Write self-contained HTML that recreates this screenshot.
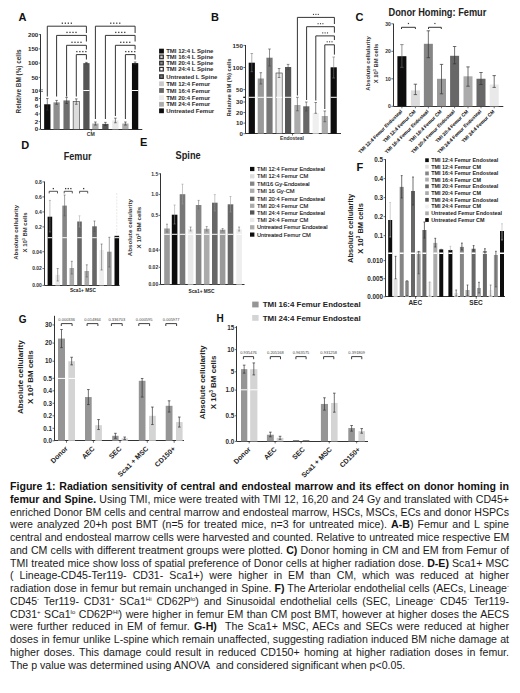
<!DOCTYPE html>
<html><head><meta charset="utf-8">
<style>
html,body{margin:0;padding:0;background:#fff;}
body{width:520px;height:693px;overflow:hidden;position:relative;font-family:"Liberation Sans", sans-serif;}
svg{position:absolute;left:0;top:0;}
svg text{font-family:"Liberation Sans", sans-serif;}
#cap{position:absolute;left:10px;top:480.2px;width:499px;font-size:10.6px;line-height:12.76px;color:#1a1a1a;}
.cl{white-space:nowrap;text-align:justify;text-align-last:justify;height:12.76px;}
.cl.last{text-align-last:left;}
.cl b{font-weight:bold;color:#111;}
.cl sup{font-size:6px;vertical-align:0;position:relative;top:-4px;line-height:0;}
</style></head><body>
<svg width="520" height="693" viewBox="0 0 520 693">
<text x="22.4" y="20.8" font-size="11" text-anchor="middle" font-weight="bold" fill="#111">A</text>
<line x1="40.5" y1="34.2" x2="40.5" y2="129.3" stroke="#333" stroke-width="1.0"/>
<line x1="40.8" y1="129.5" x2="142.3" y2="129.5" stroke="#333" stroke-width="1.0"/>
<line x1="91.3" y1="129.3" x2="91.3" y2="131.5" stroke="#333" stroke-width="0.7"/>
<line x1="39" y1="89.8" x2="43" y2="89.8" stroke="#333" stroke-width="0.6"/>
<line x1="39" y1="91.5" x2="43" y2="91.5" stroke="#333" stroke-width="0.6"/>
<line x1="38.8" y1="34.6" x2="40.8" y2="34.6" stroke="#333" stroke-width="0.7"/>
<text x="38.3" y="36.7" font-size="6.2" text-anchor="end" font-weight="bold" fill="#2a2a2a">200</text>
<line x1="38.8" y1="48.87" x2="40.8" y2="48.87" stroke="#333" stroke-width="0.7"/>
<text x="38.3" y="50.97" font-size="6.2" text-anchor="end" font-weight="bold" fill="#2a2a2a">150</text>
<line x1="38.8" y1="63.13" x2="40.8" y2="63.13" stroke="#333" stroke-width="0.7"/>
<text x="38.3" y="65.23" font-size="6.2" text-anchor="end" font-weight="bold" fill="#2a2a2a">100</text>
<line x1="38.8" y1="77.4" x2="40.8" y2="77.4" stroke="#333" stroke-width="0.7"/>
<text x="38.3" y="79.5" font-size="6.2" text-anchor="end" font-weight="bold" fill="#2a2a2a">50</text>
<line x1="38.8" y1="90.8" x2="40.8" y2="90.8" stroke="#333" stroke-width="0.7"/>
<text x="38.3" y="92.9" font-size="6.2" text-anchor="end" font-weight="bold" fill="#2a2a2a">10</text>
<line x1="38.8" y1="98.5" x2="40.8" y2="98.5" stroke="#333" stroke-width="0.7"/>
<text x="38.3" y="100.6" font-size="6.2" text-anchor="end" font-weight="bold" fill="#2a2a2a">8</text>
<line x1="38.8" y1="106.2" x2="40.8" y2="106.2" stroke="#333" stroke-width="0.7"/>
<text x="38.3" y="108.3" font-size="6.2" text-anchor="end" font-weight="bold" fill="#2a2a2a">6</text>
<line x1="38.8" y1="113.9" x2="40.8" y2="113.9" stroke="#333" stroke-width="0.7"/>
<text x="38.3" y="116" font-size="6.2" text-anchor="end" font-weight="bold" fill="#2a2a2a">4</text>
<line x1="38.8" y1="121.6" x2="40.8" y2="121.6" stroke="#333" stroke-width="0.7"/>
<text x="38.3" y="123.7" font-size="6.2" text-anchor="end" font-weight="bold" fill="#2a2a2a">2</text>
<line x1="38.8" y1="129.3" x2="40.8" y2="129.3" stroke="#333" stroke-width="0.7"/>
<text x="38.3" y="131.4" font-size="6.2" text-anchor="end" font-weight="bold" fill="#2a2a2a">0</text>
<text x="21.2" y="81.5" font-size="6.4" text-anchor="middle" font-weight="bold" fill="#333" transform="rotate(-90 21.2 81.5)">Relative BM (%) cells</text>
<rect x="44.15" y="104.28" width="6.3" height="25.03" fill="#0d0d0d"/>
<line x1="47.3" y1="98.5" x2="47.3" y2="110.05" stroke="#333" stroke-width="0.6"/>
<line x1="46" y1="98.5" x2="48.6" y2="98.5" stroke="#333" stroke-width="0.6"/>
<line x1="46" y1="110.05" x2="48.6" y2="110.05" stroke="#333" stroke-width="0.6"/>
<rect x="53.45" y="102.35" width="6.3" height="26.95" fill="#8e8e8e"/>
<line x1="56.6" y1="100.43" x2="56.6" y2="104.28" stroke="#333" stroke-width="0.6"/>
<line x1="55.3" y1="100.43" x2="57.9" y2="100.43" stroke="#333" stroke-width="0.6"/>
<line x1="55.3" y1="104.28" x2="57.9" y2="104.28" stroke="#333" stroke-width="0.6"/>
<rect x="63.45" y="100.43" width="6.3" height="28.88" fill="#6e6e6e"/>
<line x1="66.6" y1="97.35" x2="66.6" y2="103.51" stroke="#333" stroke-width="0.6"/>
<line x1="65.3" y1="97.35" x2="67.9" y2="97.35" stroke="#333" stroke-width="0.6"/>
<line x1="65.3" y1="103.51" x2="67.9" y2="103.51" stroke="#333" stroke-width="0.6"/>
<rect x="73.15" y="101.58" width="6.3" height="27.72" fill="#dcdcdc" stroke="#333" stroke-width="0.6"/>
<line x1="76.3" y1="98.89" x2="76.3" y2="104.28" stroke="#333" stroke-width="0.6"/>
<line x1="75" y1="98.89" x2="77.6" y2="98.89" stroke="#333" stroke-width="0.6"/>
<line x1="75" y1="104.28" x2="77.6" y2="104.28" stroke="#333" stroke-width="0.6"/>
<rect x="83.25" y="63.13" width="6.3" height="66.17" fill="#555"/>
<line x1="86.4" y1="62.42" x2="86.4" y2="63.84" stroke="#333" stroke-width="0.6"/>
<line x1="85.1" y1="62.42" x2="87.7" y2="62.42" stroke="#333" stroke-width="0.6"/>
<line x1="85.1" y1="63.84" x2="87.7" y2="63.84" stroke="#333" stroke-width="0.6"/>
<rect x="83.25" y="90" width="6.3" height="1" fill="#fff"/>
<rect x="92.25" y="123.53" width="6.3" height="5.78" fill="#ababab"/>
<line x1="95.4" y1="121.99" x2="95.4" y2="125.07" stroke="#333" stroke-width="0.6"/>
<line x1="94.1" y1="121.99" x2="96.7" y2="121.99" stroke="#333" stroke-width="0.6"/>
<line x1="94.1" y1="125.07" x2="96.7" y2="125.07" stroke="#333" stroke-width="0.6"/>
<rect x="102.25" y="123.91" width="6.3" height="5.39" fill="#555"/>
<line x1="105.4" y1="122.37" x2="105.4" y2="125.45" stroke="#333" stroke-width="0.6"/>
<line x1="104.1" y1="122.37" x2="106.7" y2="122.37" stroke="#333" stroke-width="0.6"/>
<line x1="104.1" y1="125.45" x2="106.7" y2="125.45" stroke="#333" stroke-width="0.6"/>
<rect x="112.25" y="120.45" width="6.3" height="8.86" fill="#e9e9e9"/>
<line x1="115.4" y1="118.14" x2="115.4" y2="122.76" stroke="#333" stroke-width="0.6"/>
<line x1="114.1" y1="118.14" x2="116.7" y2="118.14" stroke="#333" stroke-width="0.6"/>
<line x1="114.1" y1="122.76" x2="116.7" y2="122.76" stroke="#333" stroke-width="0.6"/>
<rect x="122.25" y="123.53" width="6.3" height="5.78" fill="#ababab"/>
<line x1="125.4" y1="121.99" x2="125.4" y2="125.07" stroke="#333" stroke-width="0.6"/>
<line x1="124.1" y1="121.99" x2="126.7" y2="121.99" stroke="#333" stroke-width="0.6"/>
<line x1="124.1" y1="125.07" x2="126.7" y2="125.07" stroke="#333" stroke-width="0.6"/>
<rect x="131.95" y="63.13" width="6.3" height="66.17" fill="#0d0d0d"/>
<line x1="135.1" y1="61.99" x2="135.1" y2="64.27" stroke="#333" stroke-width="0.6"/>
<line x1="133.8" y1="61.99" x2="136.4" y2="61.99" stroke="#333" stroke-width="0.6"/>
<line x1="133.8" y1="64.27" x2="136.4" y2="64.27" stroke="#333" stroke-width="0.6"/>
<rect x="131.95" y="90" width="6.3" height="1" fill="#fff"/>
<polyline points="47.3,96.5 47.3,26.2 86.4,26.2 86.4,33" fill="none" stroke="#2a2a2a" stroke-width="0.95"/>
<rect x="61.7" y="22.55" width="1.3" height="1.3" fill="#3a3a3a"/>
<rect x="64.7" y="22.55" width="1.3" height="1.3" fill="#3a3a3a"/>
<rect x="67.7" y="22.55" width="1.3" height="1.3" fill="#3a3a3a"/>
<rect x="70.7" y="22.55" width="1.3" height="1.3" fill="#3a3a3a"/>
<polyline points="56.6,96.5 56.6,35.4 86.4,35.4 86.4,41.5" fill="none" stroke="#2a2a2a" stroke-width="0.95"/>
<rect x="66.35" y="31.75" width="1.3" height="1.3" fill="#3a3a3a"/>
<rect x="69.35" y="31.75" width="1.3" height="1.3" fill="#3a3a3a"/>
<rect x="72.35" y="31.75" width="1.3" height="1.3" fill="#3a3a3a"/>
<rect x="75.35" y="31.75" width="1.3" height="1.3" fill="#3a3a3a"/>
<polyline points="66.6,96.5 66.6,45.3 86.4,45.3 86.4,49.5" fill="none" stroke="#2a2a2a" stroke-width="0.95"/>
<rect x="71.35" y="41.65" width="1.3" height="1.3" fill="#3a3a3a"/>
<rect x="74.35" y="41.65" width="1.3" height="1.3" fill="#3a3a3a"/>
<rect x="77.35" y="41.65" width="1.3" height="1.3" fill="#3a3a3a"/>
<rect x="80.35" y="41.65" width="1.3" height="1.3" fill="#3a3a3a"/>
<polyline points="76.3,96.5 76.3,54.6 86.4,54.6 86.4,59.5" fill="none" stroke="#2a2a2a" stroke-width="0.95"/>
<rect x="76.2" y="50.95" width="1.3" height="1.3" fill="#3a3a3a"/>
<rect x="79.2" y="50.95" width="1.3" height="1.3" fill="#3a3a3a"/>
<rect x="82.2" y="50.95" width="1.3" height="1.3" fill="#3a3a3a"/>
<rect x="85.2" y="50.95" width="1.3" height="1.3" fill="#3a3a3a"/>
<polyline points="95.4,119 95.4,26.2 135.1,26.2 135.1,33" fill="none" stroke="#2a2a2a" stroke-width="0.95"/>
<rect x="110.1" y="22.55" width="1.3" height="1.3" fill="#3a3a3a"/>
<rect x="113.1" y="22.55" width="1.3" height="1.3" fill="#3a3a3a"/>
<rect x="116.1" y="22.55" width="1.3" height="1.3" fill="#3a3a3a"/>
<rect x="119.1" y="22.55" width="1.3" height="1.3" fill="#3a3a3a"/>
<polyline points="105.4,119 105.4,35.4 135.1,35.4 135.1,41.5" fill="none" stroke="#2a2a2a" stroke-width="0.95"/>
<rect x="115.1" y="31.75" width="1.3" height="1.3" fill="#3a3a3a"/>
<rect x="118.1" y="31.75" width="1.3" height="1.3" fill="#3a3a3a"/>
<rect x="121.1" y="31.75" width="1.3" height="1.3" fill="#3a3a3a"/>
<rect x="124.1" y="31.75" width="1.3" height="1.3" fill="#3a3a3a"/>
<polyline points="115.4,116 115.4,45.3 135.1,45.3 135.1,49.5" fill="none" stroke="#2a2a2a" stroke-width="0.95"/>
<rect x="120.1" y="41.65" width="1.3" height="1.3" fill="#3a3a3a"/>
<rect x="123.1" y="41.65" width="1.3" height="1.3" fill="#3a3a3a"/>
<rect x="126.1" y="41.65" width="1.3" height="1.3" fill="#3a3a3a"/>
<rect x="129.1" y="41.65" width="1.3" height="1.3" fill="#3a3a3a"/>
<polyline points="125.4,119 125.4,54.6 135.1,54.6 135.1,59.5" fill="none" stroke="#2a2a2a" stroke-width="0.95"/>
<rect x="125.1" y="50.95" width="1.3" height="1.3" fill="#3a3a3a"/>
<rect x="128.1" y="50.95" width="1.3" height="1.3" fill="#3a3a3a"/>
<rect x="131.1" y="50.95" width="1.3" height="1.3" fill="#3a3a3a"/>
<rect x="134.1" y="50.95" width="1.3" height="1.3" fill="#3a3a3a"/>
<text x="90.8" y="136.2" font-size="5.2" text-anchor="middle" font-weight="bold" fill="#333">CM</text>
<rect x="159.1" y="48.7" width="4.8" height="4.8" fill="#0d0d0d"/>
<text x="166.2" y="53.2" font-size="6.0" text-anchor="start" font-weight="bold" fill="#2a2a2a">TMI 12:4 L Spine</text>
<rect x="159.1" y="54.5" width="4.8" height="4.8" fill="#2a2a2a"/>
<rect x="160.3" y="55.7" width="2.4" height="2.4" fill="#c4c4c4"/>
<text x="166.2" y="59" font-size="6.0" text-anchor="start" font-weight="bold" fill="#2a2a2a">TMI 16:4 L Spine</text>
<rect x="159.1" y="60.7" width="4.8" height="4.8" fill="#2a2a2a"/>
<rect x="160.3" y="61.9" width="2.4" height="2.4" fill="#8a8a8a"/>
<text x="166.2" y="65.2" font-size="6.0" text-anchor="start" font-weight="bold" fill="#2a2a2a">TMI 20:4 L Spine</text>
<rect x="159.1" y="66.8" width="4.8" height="4.8" fill="#2a2a2a"/>
<rect x="160.3" y="68" width="2.4" height="2.4" fill="#fff"/>
<text x="166.2" y="71.3" font-size="6.0" text-anchor="start" font-weight="bold" fill="#2a2a2a">TMI 24:4 L Spine</text>
<rect x="159.1" y="74.2" width="4.8" height="4.8" fill="#2a2a2a"/>
<rect x="160.3" y="75.4" width="2.4" height="2.4" fill="#7a7a7a"/>
<text x="166.2" y="78.7" font-size="6.0" text-anchor="start" font-weight="bold" fill="#2a2a2a">Untreated L Spine</text>
<rect x="159.1" y="81.4" width="4.8" height="4.8" fill="#c9c9c9"/>
<text x="166.2" y="85.9" font-size="6.0" text-anchor="start" font-weight="bold" fill="#2a2a2a">TMI 12:4 Femur</text>
<rect x="159.1" y="88.1" width="4.8" height="4.8" fill="#676767"/>
<text x="166.2" y="92.6" font-size="6.0" text-anchor="start" font-weight="bold" fill="#2a2a2a">TMI 16:4 Femur</text>
<rect x="159.1" y="95.3" width="4.8" height="4.8" fill="#e9e9e9"/>
<text x="166.2" y="99.8" font-size="6.0" text-anchor="start" font-weight="bold" fill="#2a2a2a">TMI 20:4 Femur</text>
<rect x="159.1" y="101.9" width="4.8" height="4.8" fill="#ababab"/>
<text x="166.2" y="106.4" font-size="6.0" text-anchor="start" font-weight="bold" fill="#2a2a2a">TMI 24:4 Femur</text>
<rect x="159.1" y="108.4" width="4.8" height="4.8" fill="#0d0d0d"/>
<text x="166.2" y="112.9" font-size="6.0" text-anchor="start" font-weight="bold" fill="#2a2a2a">Untreated Femur</text>
<text x="214.9" y="20.8" font-size="11" text-anchor="middle" font-weight="bold" fill="#111">B</text>
<line x1="245.5" y1="45" x2="245.5" y2="133.7" stroke="#333" stroke-width="1.0"/>
<line x1="245.4" y1="133.5" x2="341" y2="133.5" stroke="#333" stroke-width="1.0"/>
<line x1="292.5" y1="133.7" x2="292.5" y2="135.5" stroke="#333" stroke-width="0.7"/>
<line x1="243.4" y1="45.4" x2="245.4" y2="45.4" stroke="#333" stroke-width="0.7"/>
<text x="242.9" y="47.5" font-size="6.2" text-anchor="end" font-weight="bold" fill="#2a2a2a">150</text>
<line x1="243.4" y1="67.5" x2="245.4" y2="67.5" stroke="#333" stroke-width="0.7"/>
<text x="242.9" y="69.6" font-size="6.2" text-anchor="end" font-weight="bold" fill="#2a2a2a">100</text>
<line x1="243.4" y1="89.6" x2="245.4" y2="89.6" stroke="#333" stroke-width="0.7"/>
<text x="242.9" y="91.7" font-size="6.2" text-anchor="end" font-weight="bold" fill="#2a2a2a">50</text>
<line x1="243.4" y1="101.99" x2="245.4" y2="101.99" stroke="#333" stroke-width="0.7"/>
<text x="242.9" y="104.09" font-size="6.2" text-anchor="end" font-weight="bold" fill="#2a2a2a">30</text>
<line x1="243.4" y1="112.56" x2="245.4" y2="112.56" stroke="#333" stroke-width="0.7"/>
<text x="242.9" y="114.66" font-size="6.2" text-anchor="end" font-weight="bold" fill="#2a2a2a">20</text>
<line x1="243.4" y1="123.13" x2="245.4" y2="123.13" stroke="#333" stroke-width="0.7"/>
<text x="242.9" y="125.23" font-size="6.2" text-anchor="end" font-weight="bold" fill="#2a2a2a">10</text>
<line x1="243.4" y1="133.7" x2="245.4" y2="133.7" stroke="#333" stroke-width="0.7"/>
<text x="242.9" y="135.8" font-size="6.2" text-anchor="end" font-weight="bold" fill="#2a2a2a">0</text>
<line x1="243.2" y1="97.3" x2="245.4" y2="97.3" stroke="#111" stroke-width="1.2"/>
<text x="230.6" y="87.6" font-size="5.8" text-anchor="middle" font-weight="bold" fill="#333" transform="rotate(-90 230.6 87.6)">Relative BM (%) cells</text>
<rect x="248.7" y="62.7" width="6.2" height="71" fill="#0d0d0d"/>
<rect x="248.7" y="96.8" width="6.2" height="1" fill="#fff"/>
<line x1="251.8" y1="53.5" x2="251.8" y2="71.7" stroke="#777" stroke-width="0.6"/>
<line x1="250.5" y1="53.5" x2="253.1" y2="53.5" stroke="#777" stroke-width="0.6"/>
<line x1="250.5" y1="71.7" x2="253.1" y2="71.7" stroke="#777" stroke-width="0.6"/>
<rect x="257.7" y="78.5" width="6.2" height="55.2" fill="#9a9a9a"/>
<rect x="257.7" y="96.8" width="6.2" height="1" fill="#fff"/>
<line x1="260.8" y1="72.7" x2="260.8" y2="84" stroke="#444" stroke-width="0.6"/>
<line x1="259.5" y1="72.7" x2="262.1" y2="72.7" stroke="#444" stroke-width="0.6"/>
<line x1="259.5" y1="84" x2="262.1" y2="84" stroke="#444" stroke-width="0.6"/>
<rect x="266.4" y="57.7" width="6.2" height="76" fill="#777"/>
<rect x="266.4" y="96.8" width="6.2" height="1" fill="#fff"/>
<line x1="269.5" y1="49" x2="269.5" y2="66" stroke="#444" stroke-width="0.6"/>
<line x1="268.2" y1="49" x2="270.8" y2="49" stroke="#444" stroke-width="0.6"/>
<line x1="268.2" y1="66" x2="270.8" y2="66" stroke="#444" stroke-width="0.6"/>
<rect x="276" y="73" width="6.2" height="60.7" fill="#e9e9e9" stroke="#333" stroke-width="0.6"/>
<rect x="276" y="96.8" width="6.2" height="1" fill="#fff"/>
<line x1="279.1" y1="68.5" x2="279.1" y2="77.5" stroke="#444" stroke-width="0.6"/>
<line x1="277.8" y1="68.5" x2="280.4" y2="68.5" stroke="#444" stroke-width="0.6"/>
<line x1="277.8" y1="77.5" x2="280.4" y2="77.5" stroke="#444" stroke-width="0.6"/>
<rect x="285" y="67" width="6.2" height="66.7" fill="#555"/>
<rect x="285" y="96.8" width="6.2" height="1" fill="#fff"/>
<line x1="288.1" y1="64.4" x2="288.1" y2="69.6" stroke="#444" stroke-width="0.6"/>
<line x1="286.8" y1="64.4" x2="289.4" y2="64.4" stroke="#444" stroke-width="0.6"/>
<line x1="286.8" y1="69.6" x2="289.4" y2="69.6" stroke="#444" stroke-width="0.6"/>
<rect x="294.3" y="105" width="6.2" height="28.7" fill="#ababab"/>
<line x1="297.4" y1="97.3" x2="297.4" y2="110.8" stroke="#444" stroke-width="0.6"/>
<line x1="296.1" y1="97.3" x2="298.7" y2="97.3" stroke="#444" stroke-width="0.6"/>
<line x1="296.1" y1="110.8" x2="298.7" y2="110.8" stroke="#444" stroke-width="0.6"/>
<rect x="303.2" y="106.3" width="6.2" height="27.4" fill="#676767"/>
<line x1="306.3" y1="102" x2="306.3" y2="111" stroke="#444" stroke-width="0.6"/>
<line x1="305" y1="102" x2="307.6" y2="102" stroke="#444" stroke-width="0.6"/>
<line x1="305" y1="111" x2="307.6" y2="111" stroke="#444" stroke-width="0.6"/>
<rect x="312.6" y="113" width="6.2" height="20.7" fill="#efefef"/>
<line x1="315.7" y1="102.5" x2="315.7" y2="113.3" stroke="#444" stroke-width="0.6"/>
<line x1="314.4" y1="102.5" x2="317" y2="102.5" stroke="#444" stroke-width="0.6"/>
<line x1="314.4" y1="113.3" x2="317" y2="113.3" stroke="#444" stroke-width="0.6"/>
<rect x="321.7" y="116" width="6.2" height="17.7" fill="#ababab"/>
<line x1="324.8" y1="111" x2="324.8" y2="121.7" stroke="#444" stroke-width="0.6"/>
<line x1="323.5" y1="111" x2="326.1" y2="111" stroke="#444" stroke-width="0.6"/>
<line x1="323.5" y1="121.7" x2="326.1" y2="121.7" stroke="#444" stroke-width="0.6"/>
<rect x="330.6" y="67.3" width="6.2" height="66.4" fill="#0d0d0d"/>
<rect x="330.6" y="96.8" width="6.2" height="1" fill="#fff"/>
<line x1="333.7" y1="57" x2="333.7" y2="78" stroke="#777" stroke-width="0.6"/>
<line x1="332.4" y1="57" x2="335" y2="57" stroke="#777" stroke-width="0.6"/>
<line x1="332.4" y1="78" x2="335" y2="78" stroke="#777" stroke-width="0.6"/>
<polyline points="297.4,95.5 297.4,17.4 334.4,17.4 334.4,24" fill="none" stroke="#2a2a2a" stroke-width="0.95"/>
<rect x="312.95" y="13.85" width="1.1" height="1.1" fill="#3a3a3a"/>
<rect x="315.35" y="13.85" width="1.1" height="1.1" fill="#3a3a3a"/>
<rect x="317.75" y="13.85" width="1.1" height="1.1" fill="#3a3a3a"/>
<polyline points="306.6,100 306.6,26.7 334.4,26.7 334.4,32.7" fill="none" stroke="#2a2a2a" stroke-width="0.95"/>
<rect x="317.55" y="23.15" width="1.1" height="1.1" fill="#3a3a3a"/>
<rect x="319.95" y="23.15" width="1.1" height="1.1" fill="#3a3a3a"/>
<rect x="322.35" y="23.15" width="1.1" height="1.1" fill="#3a3a3a"/>
<polyline points="315.8,100.5 315.8,35.9 334.4,35.9 334.4,40" fill="none" stroke="#2a2a2a" stroke-width="0.95"/>
<rect x="322.15" y="32.35" width="1.1" height="1.1" fill="#3a3a3a"/>
<rect x="324.55" y="32.35" width="1.1" height="1.1" fill="#3a3a3a"/>
<rect x="326.95" y="32.35" width="1.1" height="1.1" fill="#3a3a3a"/>
<polyline points="324.8,109 324.8,44.8 334.4,44.8 334.4,54.6" fill="none" stroke="#2a2a2a" stroke-width="0.95"/>
<rect x="326.65" y="41.25" width="1.1" height="1.1" fill="#3a3a3a"/>
<rect x="329.05" y="41.25" width="1.1" height="1.1" fill="#3a3a3a"/>
<rect x="331.45" y="41.25" width="1.1" height="1.1" fill="#3a3a3a"/>
<text x="292" y="140" font-size="5.0" text-anchor="middle" font-weight="bold" fill="#333">Endosteal</text>
<text x="359.4" y="20.8" font-size="11" text-anchor="middle" font-weight="bold" fill="#111">C</text>
<text x="388.5" y="16.3" font-size="10" text-anchor="start" font-weight="bold" fill="#222" textLength="97.8" lengthAdjust="spacingAndGlyphs">Donor Homing: Femur</text>
<line x1="393.5" y1="23.6" x2="393.5" y2="106.3" stroke="#333" stroke-width="1.0"/>
<line x1="393.3" y1="106.5" x2="503.3" y2="106.5" stroke="#333" stroke-width="1.0"/>
<line x1="391.3" y1="23.8" x2="393.3" y2="23.8" stroke="#333" stroke-width="0.7"/>
<text x="390.8" y="25.6" font-size="5.0" text-anchor="end" font-weight="bold" fill="#333">30</text>
<line x1="391.3" y1="51.3" x2="393.3" y2="51.3" stroke="#333" stroke-width="0.7"/>
<text x="390.8" y="53.1" font-size="5.0" text-anchor="end" font-weight="bold" fill="#333">20</text>
<line x1="391.3" y1="78.8" x2="393.3" y2="78.8" stroke="#333" stroke-width="0.7"/>
<text x="390.8" y="80.6" font-size="5.0" text-anchor="end" font-weight="bold" fill="#333">10</text>
<line x1="391.3" y1="106.3" x2="393.3" y2="106.3" stroke="#333" stroke-width="0.7"/>
<text x="390.8" y="108.1" font-size="5.0" text-anchor="end" font-weight="bold" fill="#333">0</text>
<text x="370.4" y="63.5" font-size="5.9" text-anchor="middle" font-weight="bold" fill="#333" transform="rotate(-90 370.4 63.5)">Absolute cellularity</text>
<text x="378.2" y="63.5" font-size="5.9" text-anchor="middle" font-weight="bold" fill="#333" transform="rotate(-90 378.2 63.5)">X 10<tspan font-size="3.6" dy="-2">3</tspan><tspan dy="2"> BM cells</tspan></text>
<line x1="401.9" y1="106.3" x2="401.9" y2="108.3" stroke="#333" stroke-width="0.7"/>
<rect x="397.4" y="56.2" width="9" height="50.1" fill="#0d0d0d"/>
<line x1="401.9" y1="44.6" x2="401.9" y2="67.3" stroke="#666" stroke-width="0.7"/>
<line x1="400.2" y1="44.6" x2="403.6" y2="44.6" stroke="#666" stroke-width="0.7"/>
<line x1="400.2" y1="67.3" x2="403.6" y2="67.3" stroke="#666" stroke-width="0.7"/>
<line x1="415.4" y1="106.3" x2="415.4" y2="108.3" stroke="#333" stroke-width="0.7"/>
<rect x="410.9" y="90.4" width="9" height="15.9" fill="#dcdcdc"/>
<line x1="415.4" y1="84.2" x2="415.4" y2="94.6" stroke="#333" stroke-width="0.7"/>
<line x1="413.7" y1="84.2" x2="417.1" y2="84.2" stroke="#333" stroke-width="0.7"/>
<line x1="413.7" y1="94.6" x2="417.1" y2="94.6" stroke="#333" stroke-width="0.7"/>
<line x1="428.35" y1="106.3" x2="428.35" y2="108.3" stroke="#333" stroke-width="0.7"/>
<rect x="423.85" y="43.8" width="9" height="62.5" fill="#858585"/>
<line x1="428.35" y1="30.8" x2="428.35" y2="57.7" stroke="#333" stroke-width="0.7"/>
<line x1="426.65" y1="30.8" x2="430.05" y2="30.8" stroke="#333" stroke-width="0.7"/>
<line x1="426.65" y1="57.7" x2="430.05" y2="57.7" stroke="#333" stroke-width="0.7"/>
<line x1="441.5" y1="106.3" x2="441.5" y2="108.3" stroke="#333" stroke-width="0.7"/>
<rect x="437" y="78.8" width="9" height="27.5" fill="#9a9a9a"/>
<line x1="441.5" y1="64.4" x2="441.5" y2="93.8" stroke="#333" stroke-width="0.7"/>
<line x1="439.8" y1="64.4" x2="443.2" y2="64.4" stroke="#333" stroke-width="0.7"/>
<line x1="439.8" y1="93.8" x2="443.2" y2="93.8" stroke="#333" stroke-width="0.7"/>
<line x1="454.6" y1="106.3" x2="454.6" y2="108.3" stroke="#333" stroke-width="0.7"/>
<rect x="450.1" y="55.8" width="9" height="50.5" fill="#676767"/>
<line x1="454.6" y1="46.5" x2="454.6" y2="63.8" stroke="#333" stroke-width="0.7"/>
<line x1="452.9" y1="46.5" x2="456.3" y2="46.5" stroke="#333" stroke-width="0.7"/>
<line x1="452.9" y1="63.8" x2="456.3" y2="63.8" stroke="#333" stroke-width="0.7"/>
<line x1="468" y1="106.3" x2="468" y2="108.3" stroke="#333" stroke-width="0.7"/>
<rect x="463.5" y="76.3" width="9" height="30" fill="#ababab"/>
<line x1="468" y1="66.9" x2="468" y2="86.2" stroke="#333" stroke-width="0.7"/>
<line x1="466.3" y1="66.9" x2="469.7" y2="66.9" stroke="#333" stroke-width="0.7"/>
<line x1="466.3" y1="86.2" x2="469.7" y2="86.2" stroke="#333" stroke-width="0.7"/>
<line x1="481" y1="106.3" x2="481" y2="108.3" stroke="#333" stroke-width="0.7"/>
<rect x="476.5" y="78.75" width="9" height="27.55" fill="#676767"/>
<line x1="481" y1="72.5" x2="481" y2="84.5" stroke="#333" stroke-width="0.7"/>
<line x1="479.3" y1="72.5" x2="482.7" y2="72.5" stroke="#333" stroke-width="0.7"/>
<line x1="479.3" y1="84.5" x2="482.7" y2="84.5" stroke="#333" stroke-width="0.7"/>
<line x1="494.2" y1="106.3" x2="494.2" y2="108.3" stroke="#333" stroke-width="0.7"/>
<rect x="489.7" y="84.5" width="9" height="21.8" fill="#e9e9e9"/>
<line x1="494.2" y1="75.6" x2="494.2" y2="87.4" stroke="#333" stroke-width="0.7"/>
<line x1="492.5" y1="75.6" x2="495.9" y2="75.6" stroke="#333" stroke-width="0.7"/>
<line x1="492.5" y1="87.4" x2="495.9" y2="87.4" stroke="#333" stroke-width="0.7"/>
<polyline points="401.5,29 401.5,27.3 415.4,27.3 415.4,29" fill="none" stroke="#2a2a2a" stroke-width="0.95"/>
<rect x="407.85" y="22.9" width="1.2" height="1.2" fill="#3a3a3a"/>
<polyline points="428.5,29 428.5,27.3 441.3,27.3 441.3,29" fill="none" stroke="#2a2a2a" stroke-width="0.95"/>
<rect x="434.3" y="22.9" width="1.2" height="1.2" fill="#3a3a3a"/>
<text x="402.5" y="111.9" font-size="4.8" text-anchor="end" font-weight="bold" fill="#1a1a1a" transform="rotate(-45 402.5 111.9)" stroke="#1a1a1a" stroke-width="0.08">TMI 12:4 Femur Endosteal</text>
<text x="416" y="111.9" font-size="4.8" text-anchor="end" font-weight="bold" fill="#1a1a1a" transform="rotate(-45 416 111.9)" stroke="#1a1a1a" stroke-width="0.08">TMI 12:4 Femur CM</text>
<text x="428.95" y="111.9" font-size="4.8" text-anchor="end" font-weight="bold" fill="#1a1a1a" transform="rotate(-45 428.95 111.9)" stroke="#1a1a1a" stroke-width="0.08">TMI 16:4 Femur Endosteal</text>
<text x="442.1" y="111.9" font-size="4.8" text-anchor="end" font-weight="bold" fill="#1a1a1a" transform="rotate(-45 442.1 111.9)" stroke="#1a1a1a" stroke-width="0.08">TMI 16:4 Femur CM</text>
<text x="455.2" y="111.9" font-size="4.8" text-anchor="end" font-weight="bold" fill="#1a1a1a" transform="rotate(-45 455.2 111.9)" stroke="#1a1a1a" stroke-width="0.08">TMI 20:4 Femur Endosteal</text>
<text x="468.6" y="111.9" font-size="4.8" text-anchor="end" font-weight="bold" fill="#1a1a1a" transform="rotate(-45 468.6 111.9)" stroke="#1a1a1a" stroke-width="0.08">TMI 20:4 Femur CM</text>
<text x="481.6" y="111.9" font-size="4.8" text-anchor="end" font-weight="bold" fill="#1a1a1a" transform="rotate(-45 481.6 111.9)" stroke="#1a1a1a" stroke-width="0.08">TMI 24:4 Femur Endosteal</text>
<text x="494.8" y="111.9" font-size="4.8" text-anchor="end" font-weight="bold" fill="#1a1a1a" transform="rotate(-45 494.8 111.9)" stroke="#1a1a1a" stroke-width="0.08">TMI 24:4 Femur CM</text>
<text x="25.3" y="148.8" font-size="11" text-anchor="middle" font-weight="bold" fill="#111">D</text>
<text x="63.8" y="159.5" font-size="10" text-anchor="start" font-weight="bold" fill="#222" textLength="27.7" lengthAdjust="spacingAndGlyphs">Femur</text>
<line x1="44.5" y1="181.5" x2="44.5" y2="285.4" stroke="#333" stroke-width="1.0"/>
<line x1="44.4" y1="285.5" x2="119.6" y2="285.5" stroke="#333" stroke-width="1.0"/>
<line x1="42.4" y1="181.9" x2="44.4" y2="181.9" stroke="#333" stroke-width="0.7"/>
<text x="41.9" y="183.7" font-size="5.0" text-anchor="end" font-weight="bold" fill="#333">0.8</text>
<line x1="42.4" y1="196.9" x2="44.4" y2="196.9" stroke="#333" stroke-width="0.7"/>
<text x="41.9" y="198.7" font-size="5.0" text-anchor="end" font-weight="bold" fill="#333">0.6</text>
<line x1="42.4" y1="211.9" x2="44.4" y2="211.9" stroke="#333" stroke-width="0.7"/>
<text x="41.9" y="213.7" font-size="5.0" text-anchor="end" font-weight="bold" fill="#333">0.4</text>
<line x1="42.4" y1="226.9" x2="44.4" y2="226.9" stroke="#333" stroke-width="0.7"/>
<text x="41.9" y="228.7" font-size="5.0" text-anchor="end" font-weight="bold" fill="#333">0.2</text>
<line x1="42.4" y1="251.7" x2="44.4" y2="251.7" stroke="#333" stroke-width="0.7"/>
<text x="41.9" y="253.5" font-size="5.0" text-anchor="end" font-weight="bold" fill="#333">0.04</text>
<line x1="42.4" y1="268.55" x2="44.4" y2="268.55" stroke="#333" stroke-width="0.7"/>
<text x="41.9" y="270.35" font-size="5.0" text-anchor="end" font-weight="bold" fill="#333">0.02</text>
<line x1="42.4" y1="285.4" x2="44.4" y2="285.4" stroke="#333" stroke-width="0.7"/>
<text x="41.9" y="287.2" font-size="5.0" text-anchor="end" font-weight="bold" fill="#333">0.00</text>
<text x="18.4" y="232.4" font-size="5.95" text-anchor="middle" font-weight="bold" fill="#333" transform="rotate(-90 18.4 232.4)">Absolute cellularity</text>
<text x="26.8" y="232.4" font-size="5.95" text-anchor="middle" font-weight="bold" fill="#333" transform="rotate(-90 26.8 232.4)">X 10<tspan font-size="3.6" dy="-2">3</tspan><tspan dy="2"> BM cells</tspan></text>
<rect x="47.6" y="216.7" width="4.6" height="68.7" fill="#0d0d0d"/>
<rect x="47.6" y="237.2" width="4.6" height="1" fill="#fff"/>
<line x1="49.9" y1="200.4" x2="49.9" y2="232" stroke="#888" stroke-width="0.55"/>
<line x1="48.9" y1="200.4" x2="50.9" y2="200.4" stroke="#888" stroke-width="0.55"/>
<line x1="48.9" y1="232" x2="50.9" y2="232" stroke="#888" stroke-width="0.55"/>
<rect x="55.4" y="274.8" width="4.6" height="10.6" fill="#e9e9e9"/>
<line x1="57.7" y1="268.5" x2="57.7" y2="281" stroke="#555" stroke-width="0.55"/>
<line x1="56.7" y1="268.5" x2="58.7" y2="268.5" stroke="#555" stroke-width="0.55"/>
<line x1="56.7" y1="281" x2="58.7" y2="281" stroke="#555" stroke-width="0.55"/>
<rect x="62.3" y="205.6" width="4.6" height="79.8" fill="#858585"/>
<rect x="62.3" y="237.2" width="4.6" height="1" fill="#fff"/>
<line x1="64.6" y1="195" x2="64.6" y2="215.8" stroke="#555" stroke-width="0.55"/>
<line x1="63.6" y1="195" x2="65.6" y2="195" stroke="#555" stroke-width="0.55"/>
<line x1="63.6" y1="215.8" x2="65.6" y2="215.8" stroke="#555" stroke-width="0.55"/>
<rect x="69.5" y="268" width="4.6" height="17.4" fill="#ababab"/>
<line x1="71.8" y1="261.3" x2="71.8" y2="274" stroke="#555" stroke-width="0.55"/>
<line x1="70.8" y1="261.3" x2="72.8" y2="261.3" stroke="#555" stroke-width="0.55"/>
<line x1="70.8" y1="274" x2="72.8" y2="274" stroke="#555" stroke-width="0.55"/>
<rect x="77.2" y="221.5" width="4.6" height="63.9" fill="#676767"/>
<rect x="77.2" y="237.2" width="4.6" height="1" fill="#fff"/>
<line x1="79.5" y1="215.8" x2="79.5" y2="227" stroke="#aaa" stroke-width="0.55"/>
<line x1="78.5" y1="215.8" x2="80.5" y2="215.8" stroke="#aaa" stroke-width="0.55"/>
<line x1="78.5" y1="227" x2="80.5" y2="227" stroke="#aaa" stroke-width="0.55"/>
<rect x="84.5" y="271" width="4.6" height="14.4" fill="#ababab"/>
<line x1="86.8" y1="264.8" x2="86.8" y2="277" stroke="#555" stroke-width="0.55"/>
<line x1="85.8" y1="264.8" x2="87.8" y2="264.8" stroke="#555" stroke-width="0.55"/>
<line x1="85.8" y1="277" x2="87.8" y2="277" stroke="#555" stroke-width="0.55"/>
<rect x="92.2" y="226.3" width="4.6" height="59.1" fill="#676767"/>
<rect x="92.2" y="237.2" width="4.6" height="1" fill="#fff"/>
<line x1="94.5" y1="221" x2="94.5" y2="231.5" stroke="#555" stroke-width="0.55"/>
<line x1="93.5" y1="221" x2="95.5" y2="221" stroke="#555" stroke-width="0.55"/>
<line x1="93.5" y1="231.5" x2="95.5" y2="231.5" stroke="#555" stroke-width="0.55"/>
<rect x="99.3" y="250" width="4.6" height="35.4" fill="#eeeeee"/>
<line x1="101.6" y1="244" x2="101.6" y2="270" stroke="#555" stroke-width="0.55"/>
<line x1="100.6" y1="244" x2="102.6" y2="244" stroke="#555" stroke-width="0.55"/>
<line x1="100.6" y1="270" x2="102.6" y2="270" stroke="#555" stroke-width="0.55"/>
<rect x="107" y="251.7" width="4.6" height="33.7" fill="#9a9a9a"/>
<line x1="109.3" y1="237.3" x2="109.3" y2="267" stroke="#555" stroke-width="0.55"/>
<line x1="108.3" y1="237.3" x2="110.3" y2="237.3" stroke="#555" stroke-width="0.55"/>
<line x1="108.3" y1="267" x2="110.3" y2="267" stroke="#555" stroke-width="0.55"/>
<rect x="114.5" y="235.8" width="4.6" height="49.6" fill="#0d0d0d"/>
<rect x="114.5" y="237.2" width="4.6" height="1" fill="#fff"/>
<line x1="116.8" y1="193" x2="116.8" y2="235.8" stroke="#d8d8d8" stroke-width="0.6" stroke-dasharray="2 1.2"/>
<polyline points="49.2,193.4 49.2,191.3 57.5,191.3 57.5,193.4" fill="none" stroke="#2a2a2a" stroke-width="0.8"/>
<rect x="52.7" y="187.95" width="1.3" height="1.3" fill="#3a3a3a"/>
<polyline points="64.2,193.4 64.2,191.3 72.3,191.3 72.3,193.4" fill="none" stroke="#2a2a2a" stroke-width="0.8"/>
<rect x="65" y="187.95" width="1.3" height="1.3" fill="#3a3a3a"/>
<rect x="67.6" y="187.95" width="1.3" height="1.3" fill="#3a3a3a"/>
<rect x="70.2" y="187.95" width="1.3" height="1.3" fill="#3a3a3a"/>
<polyline points="79.6,193.4 79.6,191.3 87.7,191.3 87.7,193.4" fill="none" stroke="#2a2a2a" stroke-width="0.8"/>
<rect x="83" y="187.95" width="1.3" height="1.3" fill="#3a3a3a"/>
<text x="82.9" y="292.3" font-size="4.8" text-anchor="middle" font-weight="bold" fill="#222">Sca1+ MSC</text>
<text x="143.7" y="146.2" font-size="11" text-anchor="middle" font-weight="bold" fill="#111">E</text>
<text x="175.6" y="159.4" font-size="10" text-anchor="start" font-weight="bold" fill="#222" textLength="25.1" lengthAdjust="spacingAndGlyphs">Spine</text>
<line x1="160.5" y1="173.4" x2="160.5" y2="284.6" stroke="#333" stroke-width="1.0"/>
<line x1="160.7" y1="284.5" x2="244.5" y2="284.5" stroke="#333" stroke-width="1.0"/>
<line x1="158.7" y1="173.8" x2="160.7" y2="173.8" stroke="#333" stroke-width="0.7"/>
<text x="158.2" y="175.6" font-size="5.0" text-anchor="end" font-weight="bold" fill="#333">1.5</text>
<line x1="158.7" y1="194.6" x2="160.7" y2="194.6" stroke="#333" stroke-width="0.7"/>
<text x="158.2" y="196.4" font-size="5.0" text-anchor="end" font-weight="bold" fill="#333">1.0</text>
<line x1="158.7" y1="215.4" x2="160.7" y2="215.4" stroke="#333" stroke-width="0.7"/>
<text x="158.2" y="217.2" font-size="5.0" text-anchor="end" font-weight="bold" fill="#333">0.5</text>
<line x1="158.7" y1="250" x2="160.7" y2="250" stroke="#333" stroke-width="0.7"/>
<text x="158.2" y="251.8" font-size="5.0" text-anchor="end" font-weight="bold" fill="#333">0.04</text>
<line x1="158.7" y1="267.3" x2="160.7" y2="267.3" stroke="#333" stroke-width="0.7"/>
<text x="158.2" y="269.1" font-size="5.0" text-anchor="end" font-weight="bold" fill="#333">0.02</text>
<line x1="158.7" y1="284.6" x2="160.7" y2="284.6" stroke="#333" stroke-width="0.7"/>
<text x="158.2" y="286.4" font-size="5.0" text-anchor="end" font-weight="bold" fill="#333">0.00</text>
<text x="132" y="227.6" font-size="6.2" text-anchor="middle" font-weight="bold" fill="#333" transform="rotate(-90 132 227.6)">Absolute cellularity</text>
<text x="140.8" y="227.6" font-size="6.2" text-anchor="middle" font-weight="bold" fill="#333" transform="rotate(-90 140.8 227.6)">X 10<tspan font-size="3.8" dy="-2">3</tspan><tspan dy="2"> BM cells</tspan></text>
<rect x="164.2" y="228.5" width="5.6" height="56.1" fill="#9a9a9a"/>
<rect x="164.2" y="233.8" width="5.6" height="1" fill="#fff"/>
<line x1="167" y1="224.2" x2="167" y2="232" stroke="#666" stroke-width="0.55"/>
<line x1="166" y1="224.2" x2="168" y2="224.2" stroke="#666" stroke-width="0.55"/>
<line x1="166" y1="232" x2="168" y2="232" stroke="#666" stroke-width="0.55"/>
<rect x="171.8" y="214.7" width="5.6" height="69.9" fill="#0d0d0d"/>
<rect x="171.8" y="233.8" width="5.6" height="1" fill="#fff"/>
<line x1="174.6" y1="205" x2="174.6" y2="224" stroke="#999" stroke-width="0.55"/>
<line x1="173.6" y1="205" x2="175.6" y2="205" stroke="#999" stroke-width="0.55"/>
<line x1="173.6" y1="224" x2="175.6" y2="224" stroke="#999" stroke-width="0.55"/>
<rect x="179.7" y="194.2" width="5.6" height="90.4" fill="#777"/>
<rect x="179.7" y="233.8" width="5.6" height="1" fill="#fff"/>
<line x1="182.5" y1="184.2" x2="182.5" y2="204" stroke="#999" stroke-width="0.55"/>
<line x1="181.5" y1="184.2" x2="183.5" y2="184.2" stroke="#999" stroke-width="0.55"/>
<line x1="181.5" y1="204" x2="183.5" y2="204" stroke="#999" stroke-width="0.55"/>
<rect x="187.8" y="229.2" width="5.6" height="55.4" fill="#e9e9e9"/>
<rect x="187.8" y="233.8" width="5.6" height="1" fill="#fff"/>
<line x1="190.6" y1="227" x2="190.6" y2="231" stroke="#666" stroke-width="0.55"/>
<line x1="189.6" y1="227" x2="191.6" y2="227" stroke="#666" stroke-width="0.55"/>
<line x1="189.6" y1="231" x2="191.6" y2="231" stroke="#666" stroke-width="0.55"/>
<rect x="195.8" y="205" width="5.6" height="79.6" fill="#858585"/>
<rect x="195.8" y="233.8" width="5.6" height="1" fill="#fff"/>
<line x1="198.6" y1="200.4" x2="198.6" y2="209" stroke="#666" stroke-width="0.55"/>
<line x1="197.6" y1="200.4" x2="199.6" y2="200.4" stroke="#666" stroke-width="0.55"/>
<line x1="197.6" y1="209" x2="199.6" y2="209" stroke="#666" stroke-width="0.55"/>
<rect x="203.9" y="228.8" width="5.6" height="55.8" fill="#ababab"/>
<rect x="203.9" y="233.8" width="5.6" height="1" fill="#fff"/>
<line x1="206.7" y1="226.5" x2="206.7" y2="231" stroke="#666" stroke-width="0.55"/>
<line x1="205.7" y1="226.5" x2="207.7" y2="226.5" stroke="#666" stroke-width="0.55"/>
<line x1="205.7" y1="231" x2="207.7" y2="231" stroke="#666" stroke-width="0.55"/>
<rect x="212" y="202.7" width="5.6" height="81.9" fill="#676767"/>
<rect x="212" y="233.8" width="5.6" height="1" fill="#fff"/>
<line x1="214.8" y1="194.6" x2="214.8" y2="211" stroke="#999" stroke-width="0.55"/>
<line x1="213.8" y1="194.6" x2="215.8" y2="194.6" stroke="#999" stroke-width="0.55"/>
<line x1="213.8" y1="211" x2="215.8" y2="211" stroke="#999" stroke-width="0.55"/>
<rect x="219.8" y="229.7" width="5.6" height="54.9" fill="#9a9a9a"/>
<rect x="219.8" y="233.8" width="5.6" height="1" fill="#fff"/>
<line x1="222.6" y1="228.5" x2="222.6" y2="231" stroke="#666" stroke-width="0.55"/>
<line x1="221.6" y1="228.5" x2="223.6" y2="228.5" stroke="#666" stroke-width="0.55"/>
<line x1="221.6" y1="231" x2="223.6" y2="231" stroke="#666" stroke-width="0.55"/>
<rect x="227.7" y="204.3" width="5.6" height="80.3" fill="#676767"/>
<rect x="227.7" y="233.8" width="5.6" height="1" fill="#fff"/>
<line x1="230.5" y1="196.5" x2="230.5" y2="212" stroke="#999" stroke-width="0.55"/>
<line x1="229.5" y1="196.5" x2="231.5" y2="196.5" stroke="#999" stroke-width="0.55"/>
<line x1="229.5" y1="212" x2="231.5" y2="212" stroke="#999" stroke-width="0.55"/>
<rect x="236.3" y="229.2" width="5.6" height="55.4" fill="#eeeeee"/>
<rect x="236.3" y="233.8" width="5.6" height="1" fill="#fff"/>
<line x1="239.1" y1="227" x2="239.1" y2="231" stroke="#666" stroke-width="0.55"/>
<line x1="238.1" y1="227" x2="240.1" y2="227" stroke="#666" stroke-width="0.55"/>
<line x1="238.1" y1="231" x2="240.1" y2="231" stroke="#666" stroke-width="0.55"/>
<text x="201.5" y="292.5" font-size="4.8" text-anchor="middle" font-weight="bold" fill="#222">Sca1+ MSC</text>
<rect x="250" y="166.9" width="4.4" height="4.2" fill="#0d0d0d"/>
<text x="256.9" y="171" font-size="5.75" text-anchor="start" font-weight="normal" fill="#111" stroke="#111" stroke-width="0.12">TMI 12:4 Femur Endosteal</text>
<rect x="250" y="174.2" width="4.4" height="4.2" fill="#dcdcdc"/>
<text x="256.9" y="178.3" font-size="5.75" text-anchor="start" font-weight="normal" fill="#111" stroke="#111" stroke-width="0.12">TMI 12:4 Femur CM</text>
<rect x="250" y="181.6" width="4.4" height="4.2" fill="#858585"/>
<text x="256.9" y="185.7" font-size="5.75" text-anchor="start" font-weight="normal" fill="#111" stroke="#111" stroke-width="0.12">TMI16 Gy-Endosteal</text>
<rect x="250" y="188.7" width="4.4" height="4.2" fill="#ababab"/>
<text x="256.9" y="192.8" font-size="5.75" text-anchor="start" font-weight="normal" fill="#111" stroke="#111" stroke-width="0.12">TMI 16 Gy-CM</text>
<rect x="250" y="196.7" width="4.4" height="4.2" fill="#676767"/>
<text x="256.9" y="200.8" font-size="5.75" text-anchor="start" font-weight="normal" fill="#111" stroke="#111" stroke-width="0.12">TMI 20:4 Femur Endosteal</text>
<rect x="250" y="203.7" width="4.4" height="4.2" fill="#ababab"/>
<text x="256.9" y="207.8" font-size="5.75" text-anchor="start" font-weight="normal" fill="#111" stroke="#111" stroke-width="0.12">TMI 20:4 Femur CM</text>
<rect x="250" y="210.4" width="4.4" height="4.2" fill="#555"/>
<text x="256.9" y="214.5" font-size="5.75" text-anchor="start" font-weight="normal" fill="#111" stroke="#111" stroke-width="0.12">TMI 24:4 Femur Endosteal</text>
<rect x="250" y="217.9" width="4.4" height="4.2" fill="#e9e9e9"/>
<text x="256.9" y="222" font-size="5.75" text-anchor="start" font-weight="normal" fill="#111" stroke="#111" stroke-width="0.12">TMI 24:4 Femur CM</text>
<rect x="250" y="225.2" width="4.4" height="4.2" fill="#ababab"/>
<text x="256.9" y="229.3" font-size="5.75" text-anchor="start" font-weight="normal" fill="#111" stroke="#111" stroke-width="0.12">Untreated Femur Endosteal</text>
<rect x="250" y="232.5" width="4.4" height="4.2" fill="#0d0d0d"/>
<text x="256.9" y="236.6" font-size="5.75" text-anchor="start" font-weight="normal" fill="#111" stroke="#111" stroke-width="0.12">Untreated Femur CM</text>
<text x="359.8" y="171.2" font-size="11" text-anchor="middle" font-weight="bold" fill="#111">F</text>
<line x1="385.5" y1="159.2" x2="385.5" y2="296.8" stroke="#333" stroke-width="1.0"/>
<line x1="385.6" y1="296.5" x2="505" y2="296.5" stroke="#333" stroke-width="1.0"/>
<line x1="383.6" y1="159.55" x2="385.6" y2="159.55" stroke="#333" stroke-width="0.7"/>
<text x="383.1" y="161.75" font-size="6.3" text-anchor="end" font-weight="bold" fill="#2a2a2a">0.5</text>
<line x1="383.6" y1="178.58" x2="385.6" y2="178.58" stroke="#333" stroke-width="0.7"/>
<text x="383.1" y="180.78" font-size="6.3" text-anchor="end" font-weight="bold" fill="#2a2a2a">0.4</text>
<line x1="383.6" y1="197.61" x2="385.6" y2="197.61" stroke="#333" stroke-width="0.7"/>
<text x="383.1" y="199.81" font-size="6.3" text-anchor="end" font-weight="bold" fill="#2a2a2a">0.3</text>
<line x1="383.6" y1="216.64" x2="385.6" y2="216.64" stroke="#333" stroke-width="0.7"/>
<text x="383.1" y="218.84" font-size="6.3" text-anchor="end" font-weight="bold" fill="#2a2a2a">0.2</text>
<line x1="383.6" y1="235.67" x2="385.6" y2="235.67" stroke="#333" stroke-width="0.7"/>
<text x="383.1" y="237.87" font-size="6.3" text-anchor="end" font-weight="bold" fill="#2a2a2a">0.1</text>
<line x1="383.6" y1="260.6" x2="385.6" y2="260.6" stroke="#333" stroke-width="0.7"/>
<text x="383.1" y="262.8" font-size="6.3" text-anchor="end" font-weight="bold" fill="#2a2a2a">0.010</text>
<line x1="383.6" y1="278.7" x2="385.6" y2="278.7" stroke="#333" stroke-width="0.7"/>
<text x="383.1" y="280.9" font-size="6.3" text-anchor="end" font-weight="bold" fill="#2a2a2a">0.005</text>
<line x1="383.6" y1="296.8" x2="385.6" y2="296.8" stroke="#333" stroke-width="0.7"/>
<text x="383.1" y="299" font-size="6.3" text-anchor="end" font-weight="bold" fill="#2a2a2a">0.000</text>
<text x="353" y="228.4" font-size="7.5" text-anchor="middle" font-weight="bold" fill="#222" transform="rotate(-90 353 228.4)">Absolute cellularity</text>
<text x="362.8" y="228.4" font-size="7.5" text-anchor="middle" font-weight="bold" fill="#222" transform="rotate(-90 362.8 228.4)">X 10<tspan font-size="4.5" dy="-2.5">3</tspan><tspan dy="2.5"> BM cells</tspan></text>
<rect x="388.2" y="220" width="4" height="76.8" fill="#0d0d0d"/>
<rect x="388.2" y="252.5" width="4" height="1.5" fill="#fff"/>
<line x1="390.2" y1="202.5" x2="390.2" y2="237" stroke="#bbb" stroke-width="0.7"/>
<line x1="389.3" y1="202.5" x2="391.1" y2="202.5" stroke="#bbb" stroke-width="0.7"/>
<line x1="389.3" y1="237" x2="391.1" y2="237" stroke="#bbb" stroke-width="0.7"/>
<rect x="393.6" y="278.75" width="4" height="18.05" fill="#dedede"/>
<line x1="395.6" y1="256.3" x2="395.6" y2="278.75" stroke="#333" stroke-width="0.7"/>
<line x1="394.7" y1="256.3" x2="396.5" y2="256.3" stroke="#333" stroke-width="0.7"/>
<line x1="394.7" y1="278.75" x2="396.5" y2="278.75" stroke="#333" stroke-width="0.7"/>
<rect x="399.7" y="186.9" width="4" height="109.9" fill="#858585"/>
<rect x="399.7" y="252.5" width="4" height="1.5" fill="#fff"/>
<line x1="401.7" y1="175.6" x2="401.7" y2="198" stroke="#333" stroke-width="0.7"/>
<line x1="400.8" y1="175.6" x2="402.6" y2="175.6" stroke="#333" stroke-width="0.7"/>
<line x1="400.8" y1="198" x2="402.6" y2="198" stroke="#333" stroke-width="0.7"/>
<rect x="405" y="280.8" width="4" height="16" fill="#a8a8a8"/>
<line x1="407" y1="280.8" x2="407" y2="295.5" stroke="#444" stroke-width="0.7"/>
<line x1="406.1" y1="280.8" x2="407.9" y2="280.8" stroke="#444" stroke-width="0.7"/>
<line x1="406.1" y1="295.5" x2="407.9" y2="295.5" stroke="#444" stroke-width="0.7"/>
<rect x="411" y="191" width="4" height="105.8" fill="#676767"/>
<rect x="411" y="252.5" width="4" height="1.5" fill="#fff"/>
<line x1="413" y1="177" x2="413" y2="205" stroke="#333" stroke-width="0.7"/>
<line x1="412.1" y1="177" x2="413.9" y2="177" stroke="#333" stroke-width="0.7"/>
<line x1="412.1" y1="205" x2="413.9" y2="205" stroke="#333" stroke-width="0.7"/>
<rect x="416.7" y="251.5" width="4" height="45.3" fill="#a0a0a0"/>
<rect x="416.7" y="252.5" width="4" height="1.5" fill="#fff"/>
<line x1="418.7" y1="251.4" x2="418.7" y2="273.8" stroke="#444" stroke-width="0.7"/>
<line x1="417.8" y1="251.4" x2="419.6" y2="251.4" stroke="#444" stroke-width="0.7"/>
<line x1="417.8" y1="273.8" x2="419.6" y2="273.8" stroke="#444" stroke-width="0.7"/>
<rect x="422.4" y="230" width="4" height="66.8" fill="#676767"/>
<rect x="422.4" y="252.5" width="4" height="1.5" fill="#fff"/>
<line x1="424.4" y1="222" x2="424.4" y2="238" stroke="#333" stroke-width="0.7"/>
<line x1="423.5" y1="222" x2="425.3" y2="222" stroke="#333" stroke-width="0.7"/>
<line x1="423.5" y1="238" x2="425.3" y2="238" stroke="#333" stroke-width="0.7"/>
<rect x="427.7" y="282" width="4" height="14.8" fill="#f0f0f0"/>
<line x1="429.7" y1="282" x2="429.7" y2="296" stroke="#999" stroke-width="0.7"/>
<line x1="428.8" y1="282" x2="430.6" y2="282" stroke="#999" stroke-width="0.7"/>
<line x1="428.8" y1="296" x2="430.6" y2="296" stroke="#999" stroke-width="0.7"/>
<rect x="433.3" y="242.9" width="4" height="53.9" fill="#ababab"/>
<rect x="433.3" y="252.5" width="4" height="1.5" fill="#fff"/>
<line x1="435.3" y1="238.3" x2="435.3" y2="247" stroke="#333" stroke-width="0.7"/>
<line x1="434.4" y1="238.3" x2="436.2" y2="238.3" stroke="#333" stroke-width="0.7"/>
<line x1="434.4" y1="247" x2="436.2" y2="247" stroke="#333" stroke-width="0.7"/>
<rect x="439.25" y="249.4" width="4" height="47.4" fill="#0d0d0d"/>
<rect x="439.25" y="252.5" width="4" height="1.5" fill="#fff"/>
<line x1="441.25" y1="249.4" x2="441.25" y2="249.4" stroke="#555" stroke-width="0.7"/>
<line x1="440.35" y1="249.4" x2="442.15" y2="249.4" stroke="#555" stroke-width="0.7"/>
<line x1="440.35" y1="249.4" x2="442.15" y2="249.4" stroke="#555" stroke-width="0.7"/>
<rect x="448.4" y="250" width="4" height="46.8" fill="#0d0d0d"/>
<rect x="448.4" y="252.5" width="4" height="1.5" fill="#fff"/>
<line x1="450.4" y1="246.3" x2="450.4" y2="250" stroke="#bbb" stroke-width="0.7"/>
<line x1="449.5" y1="246.3" x2="451.3" y2="246.3" stroke="#bbb" stroke-width="0.7"/>
<line x1="449.5" y1="250" x2="451.3" y2="250" stroke="#bbb" stroke-width="0.7"/>
<rect x="454.2" y="293" width="4" height="3.8" fill="#e6e6e6"/>
<line x1="456.2" y1="290" x2="456.2" y2="296" stroke="#555" stroke-width="0.7"/>
<line x1="455.3" y1="290" x2="457.1" y2="290" stroke="#555" stroke-width="0.7"/>
<line x1="455.3" y1="296" x2="457.1" y2="296" stroke="#555" stroke-width="0.7"/>
<rect x="459.9" y="246.9" width="4" height="49.9" fill="#858585"/>
<rect x="459.9" y="252.5" width="4" height="1.5" fill="#fff"/>
<line x1="461.9" y1="243.1" x2="461.9" y2="250" stroke="#333" stroke-width="0.7"/>
<line x1="461" y1="243.1" x2="462.8" y2="243.1" stroke="#333" stroke-width="0.7"/>
<line x1="461" y1="250" x2="462.8" y2="250" stroke="#333" stroke-width="0.7"/>
<rect x="465.5" y="290" width="4" height="6.8" fill="#a8a8a8"/>
<line x1="467.5" y1="285" x2="467.5" y2="295.5" stroke="#444" stroke-width="0.7"/>
<line x1="466.6" y1="285" x2="468.4" y2="285" stroke="#444" stroke-width="0.7"/>
<line x1="466.6" y1="295.5" x2="468.4" y2="295.5" stroke="#444" stroke-width="0.7"/>
<rect x="471.6" y="248.75" width="4" height="48.05" fill="#676767"/>
<rect x="471.6" y="252.5" width="4" height="1.5" fill="#fff"/>
<line x1="473.6" y1="245.6" x2="473.6" y2="251" stroke="#333" stroke-width="0.7"/>
<line x1="472.7" y1="245.6" x2="474.5" y2="245.6" stroke="#333" stroke-width="0.7"/>
<line x1="472.7" y1="251" x2="474.5" y2="251" stroke="#333" stroke-width="0.7"/>
<rect x="477" y="288" width="4" height="8.8" fill="#a8a8a8"/>
<line x1="479" y1="282.3" x2="479" y2="293" stroke="#444" stroke-width="0.7"/>
<line x1="478.1" y1="282.3" x2="479.9" y2="282.3" stroke="#444" stroke-width="0.7"/>
<line x1="478.1" y1="293" x2="479.9" y2="293" stroke="#444" stroke-width="0.7"/>
<rect x="482.9" y="251.25" width="4" height="45.55" fill="#676767"/>
<rect x="482.9" y="252.5" width="4" height="1.5" fill="#fff"/>
<line x1="484.9" y1="248.75" x2="484.9" y2="253" stroke="#333" stroke-width="0.7"/>
<line x1="484" y1="248.75" x2="485.8" y2="248.75" stroke="#333" stroke-width="0.7"/>
<line x1="484" y1="253" x2="485.8" y2="253" stroke="#333" stroke-width="0.7"/>
<rect x="488.6" y="290" width="4" height="6.8" fill="#f0f0f0"/>
<line x1="490.6" y1="285" x2="490.6" y2="296" stroke="#777" stroke-width="0.7"/>
<line x1="489.7" y1="285" x2="491.5" y2="285" stroke="#777" stroke-width="0.7"/>
<line x1="489.7" y1="296" x2="491.5" y2="296" stroke="#777" stroke-width="0.7"/>
<rect x="493.9" y="255" width="4" height="41.8" fill="#9a9a9a"/>
<line x1="495.9" y1="251.3" x2="495.9" y2="286.9" stroke="#444" stroke-width="0.7"/>
<line x1="495" y1="251.3" x2="496.8" y2="251.3" stroke="#444" stroke-width="0.7"/>
<line x1="495" y1="286.9" x2="496.8" y2="286.9" stroke="#444" stroke-width="0.7"/>
<rect x="500" y="231" width="4" height="65.8" fill="#0d0d0d"/>
<rect x="500" y="252.5" width="4" height="1.5" fill="#fff"/>
<line x1="502" y1="223.75" x2="502" y2="240" stroke="#bbb" stroke-width="0.7"/>
<line x1="501.1" y1="223.75" x2="502.9" y2="223.75" stroke="#bbb" stroke-width="0.7"/>
<line x1="501.1" y1="240" x2="502.9" y2="240" stroke="#bbb" stroke-width="0.7"/>
<line x1="415.6" y1="296.8" x2="415.6" y2="298.8" stroke="#333" stroke-width="0.7"/>
<line x1="476.25" y1="296.8" x2="476.25" y2="298.8" stroke="#333" stroke-width="0.7"/>
<text x="415.3" y="304.8" font-size="6.5" text-anchor="middle" font-weight="bold" fill="#2a2a2a">AEC</text>
<text x="476" y="304.8" font-size="6.5" text-anchor="middle" font-weight="bold" fill="#2a2a2a">SEC</text>
<rect x="425.2" y="158.3" width="3.6" height="3.8" fill="#0d0d0d"/>
<text x="431.2" y="162.1" font-size="5.43" text-anchor="start" font-weight="bold" fill="#222">TMI 12:4 Femur Endosteal</text>
<rect x="425.2" y="164.8" width="3.6" height="3.8" fill="#dcdcdc"/>
<text x="431.2" y="168.6" font-size="5.43" text-anchor="start" font-weight="bold" fill="#222">TMI 12:4 Femur CM</text>
<rect x="425.2" y="171.5" width="3.6" height="3.8" fill="#858585"/>
<text x="431.2" y="175.3" font-size="5.43" text-anchor="start" font-weight="bold" fill="#222">TMI 16:4 Femur Endosteal</text>
<rect x="425.2" y="177.7" width="3.6" height="3.8" fill="#ababab"/>
<text x="431.2" y="181.5" font-size="5.43" text-anchor="start" font-weight="bold" fill="#222">TMI 16:4 Femur CM</text>
<rect x="425.2" y="184.4" width="3.6" height="3.8" fill="#676767"/>
<text x="431.2" y="188.2" font-size="5.43" text-anchor="start" font-weight="bold" fill="#222">TMI 20:4 Femur Endosteal</text>
<rect x="425.2" y="191.2" width="3.6" height="3.8" fill="#ababab"/>
<text x="431.2" y="195" font-size="5.43" text-anchor="start" font-weight="bold" fill="#222">TMI 20:4 Femur CM</text>
<rect x="425.2" y="197.9" width="3.6" height="3.8" fill="#555"/>
<text x="431.2" y="201.7" font-size="5.43" text-anchor="start" font-weight="bold" fill="#222">TMI 24:4 Femur Endosteal</text>
<rect x="425.2" y="204.6" width="3.6" height="3.8" fill="#f0f0f0"/>
<text x="431.2" y="208.4" font-size="5.43" text-anchor="start" font-weight="bold" fill="#222">TMI 24:4 Femur CM</text>
<rect x="425.2" y="211.4" width="3.6" height="3.8" fill="#ababab"/>
<text x="431.2" y="215.2" font-size="5.43" text-anchor="start" font-weight="bold" fill="#222">Untreated Femur Endosteal</text>
<rect x="425.2" y="218.1" width="3.6" height="3.8" fill="#0d0d0d"/>
<text x="431.2" y="221.9" font-size="5.43" text-anchor="start" font-weight="bold" fill="#222">Untreated Femur CM</text>
<text x="22.6" y="322.5" font-size="10" text-anchor="middle" font-weight="bold" fill="#111">G</text>
<line x1="54.5" y1="315.8" x2="54.5" y2="440.8" stroke="#333" stroke-width="1.0"/>
<line x1="54.5" y1="440.5" x2="184" y2="440.5" stroke="#333" stroke-width="1.0"/>
<line x1="52.5" y1="324.95" x2="54.5" y2="324.95" stroke="#333" stroke-width="0.7"/>
<text x="52" y="327.15" font-size="6.3" text-anchor="end" font-weight="bold" fill="#2a2a2a">30</text>
<line x1="52.5" y1="343.1" x2="54.5" y2="343.1" stroke="#333" stroke-width="0.7"/>
<text x="52" y="345.3" font-size="6.3" text-anchor="end" font-weight="bold" fill="#2a2a2a">20</text>
<line x1="52.5" y1="361.25" x2="54.5" y2="361.25" stroke="#333" stroke-width="0.7"/>
<text x="52" y="363.45" font-size="6.3" text-anchor="end" font-weight="bold" fill="#2a2a2a">10</text>
<line x1="52.5" y1="378.3" x2="54.5" y2="378.3" stroke="#333" stroke-width="0.7"/>
<text x="52" y="380.5" font-size="6.3" text-anchor="end" font-weight="bold" fill="#2a2a2a">0.5</text>
<line x1="52.5" y1="390.8" x2="54.5" y2="390.8" stroke="#333" stroke-width="0.7"/>
<text x="52" y="393" font-size="6.3" text-anchor="end" font-weight="bold" fill="#2a2a2a">0.4</text>
<line x1="52.5" y1="403.3" x2="54.5" y2="403.3" stroke="#333" stroke-width="0.7"/>
<text x="52" y="405.5" font-size="6.3" text-anchor="end" font-weight="bold" fill="#2a2a2a">0.3</text>
<line x1="52.5" y1="415.8" x2="54.5" y2="415.8" stroke="#333" stroke-width="0.7"/>
<text x="52" y="418" font-size="6.3" text-anchor="end" font-weight="bold" fill="#2a2a2a">0.2</text>
<line x1="52.5" y1="428.3" x2="54.5" y2="428.3" stroke="#333" stroke-width="0.7"/>
<text x="52" y="430.5" font-size="6.3" text-anchor="end" font-weight="bold" fill="#2a2a2a">0.1</text>
<line x1="52.5" y1="440.8" x2="54.5" y2="440.8" stroke="#333" stroke-width="0.7"/>
<text x="52" y="443" font-size="6.3" text-anchor="end" font-weight="bold" fill="#2a2a2a">0.0</text>
<text x="22.6" y="377.2" font-size="8.0" text-anchor="middle" font-weight="bold" fill="#222" transform="rotate(-90 22.6 377.2)">Absolute cellularity</text>
<text x="33.4" y="377.2" font-size="8.0" text-anchor="middle" font-weight="bold" fill="#222" transform="rotate(-90 33.4 377.2)">X 10<tspan font-size="4.8" dy="-2.8">3</tspan><tspan dy="2.8"> BM cells</tspan></text>
<rect x="58" y="338.56" width="7" height="102.24" fill="#959595"/>
<rect x="58" y="377.9" width="7" height="1" fill="#fff"/>
<line x1="61.5" y1="329.49" x2="61.5" y2="347.64" stroke="#333" stroke-width="0.7"/>
<line x1="60.2" y1="329.49" x2="62.8" y2="329.49" stroke="#333" stroke-width="0.7"/>
<line x1="60.2" y1="347.64" x2="62.8" y2="347.64" stroke="#333" stroke-width="0.7"/>
<rect x="68.3" y="361.25" width="6.7" height="79.55" fill="#d4d4d4"/>
<rect x="68.3" y="377.9" width="6.7" height="1" fill="#fff"/>
<line x1="71.65" y1="357.26" x2="71.65" y2="364.88" stroke="#333" stroke-width="0.7"/>
<line x1="70.35" y1="357.26" x2="72.95" y2="357.26" stroke="#333" stroke-width="0.7"/>
<line x1="70.35" y1="364.88" x2="72.95" y2="364.88" stroke="#333" stroke-width="0.7"/>
<rect x="85" y="397.05" width="6.7" height="43.75" fill="#959595"/>
<line x1="88.35" y1="389.55" x2="88.35" y2="404.55" stroke="#333" stroke-width="0.7"/>
<line x1="87.05" y1="389.55" x2="89.65" y2="389.55" stroke="#333" stroke-width="0.7"/>
<line x1="87.05" y1="404.55" x2="89.65" y2="404.55" stroke="#333" stroke-width="0.7"/>
<rect x="95.2" y="425.18" width="6.7" height="15.62" fill="#d4d4d4"/>
<line x1="98.55" y1="419.55" x2="98.55" y2="429.55" stroke="#333" stroke-width="0.7"/>
<line x1="97.25" y1="419.55" x2="99.85" y2="419.55" stroke="#333" stroke-width="0.7"/>
<line x1="97.25" y1="429.55" x2="99.85" y2="429.55" stroke="#333" stroke-width="0.7"/>
<rect x="112.2" y="435.8" width="6.4" height="5" fill="#959595"/>
<line x1="115.4" y1="433.3" x2="115.4" y2="438.3" stroke="#333" stroke-width="0.7"/>
<line x1="114.1" y1="433.3" x2="116.7" y2="433.3" stroke="#333" stroke-width="0.7"/>
<line x1="114.1" y1="438.3" x2="116.7" y2="438.3" stroke="#333" stroke-width="0.7"/>
<rect x="121.5" y="438.3" width="6.4" height="2.5" fill="#d4d4d4"/>
<line x1="124.7" y1="437.05" x2="124.7" y2="439.55" stroke="#333" stroke-width="0.7"/>
<line x1="123.4" y1="437.05" x2="126" y2="437.05" stroke="#333" stroke-width="0.7"/>
<line x1="123.4" y1="439.55" x2="126" y2="439.55" stroke="#333" stroke-width="0.7"/>
<rect x="138.8" y="380.8" width="6.7" height="60" fill="#959595"/>
<line x1="142.15" y1="378.47" x2="142.15" y2="397.05" stroke="#333" stroke-width="0.7"/>
<line x1="140.85" y1="378.47" x2="143.45" y2="378.47" stroke="#333" stroke-width="0.7"/>
<line x1="140.85" y1="397.05" x2="143.45" y2="397.05" stroke="#333" stroke-width="0.7"/>
<rect x="149" y="415.8" width="6.8" height="25" fill="#d4d4d4"/>
<line x1="152.4" y1="407.05" x2="152.4" y2="424.55" stroke="#333" stroke-width="0.7"/>
<line x1="151.1" y1="407.05" x2="153.7" y2="407.05" stroke="#333" stroke-width="0.7"/>
<line x1="151.1" y1="424.55" x2="153.7" y2="424.55" stroke="#333" stroke-width="0.7"/>
<rect x="165.7" y="405.8" width="6.8" height="35" fill="#959595"/>
<line x1="169.1" y1="400.8" x2="169.1" y2="412.05" stroke="#333" stroke-width="0.7"/>
<line x1="167.8" y1="400.8" x2="170.4" y2="400.8" stroke="#333" stroke-width="0.7"/>
<line x1="167.8" y1="412.05" x2="170.4" y2="412.05" stroke="#333" stroke-width="0.7"/>
<rect x="176" y="422.05" width="6.6" height="18.75" fill="#d4d4d4"/>
<line x1="179.3" y1="417.05" x2="179.3" y2="427.05" stroke="#333" stroke-width="0.7"/>
<line x1="178" y1="417.05" x2="180.6" y2="417.05" stroke="#333" stroke-width="0.7"/>
<line x1="178" y1="427.05" x2="180.6" y2="427.05" stroke="#333" stroke-width="0.7"/>
<text x="66.7" y="321" font-size="4.0" text-anchor="middle" font-weight="normal" fill="#444">0.000336</text>
<polyline points="61.3,326 61.3,323.6 72.1,323.6 72.1,326" fill="none" stroke="#2a2a2a" stroke-width="0.9"/>
<text x="92.5" y="321" font-size="4.0" text-anchor="middle" font-weight="normal" fill="#444">0.014864</text>
<polyline points="87.1,326 87.1,323.6 97.9,323.6 97.9,326" fill="none" stroke="#2a2a2a" stroke-width="0.9"/>
<text x="116.8" y="321" font-size="4.0" text-anchor="middle" font-weight="normal" fill="#444">0.336703</text>
<polyline points="111.4,326 111.4,323.6 122.2,323.6 122.2,326" fill="none" stroke="#2a2a2a" stroke-width="0.9"/>
<text x="144.2" y="321" font-size="4.0" text-anchor="middle" font-weight="normal" fill="#444">0.000595</text>
<polyline points="138.8,326 138.8,323.6 149.6,323.6 149.6,326" fill="none" stroke="#2a2a2a" stroke-width="0.9"/>
<text x="171.2" y="321" font-size="4.0" text-anchor="middle" font-weight="normal" fill="#444">0.005977</text>
<polyline points="165.8,326 165.8,323.6 176.6,323.6 176.6,326" fill="none" stroke="#2a2a2a" stroke-width="0.9"/>
<text x="68.1" y="449.1" font-size="7.0" text-anchor="end" font-weight="bold" fill="#222" transform="rotate(-45 68.1 449.1)">Donor</text>
<text x="95.2" y="449.1" font-size="7.0" text-anchor="end" font-weight="bold" fill="#222" transform="rotate(-45 95.2 449.1)">AEC</text>
<text x="122" y="449.1" font-size="7.0" text-anchor="end" font-weight="bold" fill="#222" transform="rotate(-45 122 449.1)">SEC</text>
<text x="148.8" y="449.1" font-size="7.0" text-anchor="end" font-weight="bold" fill="#222" transform="rotate(-45 148.8 449.1)">Sca1 + MSC</text>
<text x="175.9" y="449.1" font-size="7.0" text-anchor="end" font-weight="bold" fill="#222" transform="rotate(-45 175.9 449.1)">CD150+</text>
<line x1="66.5" y1="440.8" x2="66.5" y2="442.8" stroke="#333" stroke-width="0.7"/>
<line x1="93.45" y1="440.8" x2="93.45" y2="442.8" stroke="#333" stroke-width="0.7"/>
<line x1="120.05" y1="440.8" x2="120.05" y2="442.8" stroke="#333" stroke-width="0.7"/>
<line x1="147.3" y1="440.8" x2="147.3" y2="442.8" stroke="#333" stroke-width="0.7"/>
<line x1="174.15" y1="440.8" x2="174.15" y2="442.8" stroke="#333" stroke-width="0.7"/>
<text x="220" y="322.2" font-size="10" text-anchor="middle" font-weight="bold" fill="#111">H</text>
<rect x="252.2" y="301.6" width="6.4" height="5.8" fill="#959595"/>
<text x="262.8" y="307" font-size="7.9" text-anchor="start" font-weight="bold" fill="#222">TMI 16:4 Femur Endosteal</text>
<rect x="252.2" y="315" width="6.4" height="5.8" fill="#d4d4d4"/>
<text x="262.8" y="320.5" font-size="7.9" text-anchor="start" font-weight="bold" fill="#222">TMI 24:4 Femur Endosteal</text>
<line x1="236.5" y1="326.2" x2="236.5" y2="441.4" stroke="#333" stroke-width="1.0"/>
<line x1="236.8" y1="441.5" x2="368" y2="441.5" stroke="#333" stroke-width="1.0"/>
<line x1="234.8" y1="327.4" x2="236.8" y2="327.4" stroke="#333" stroke-width="0.7"/>
<text x="234.3" y="329.6" font-size="6.3" text-anchor="end" font-weight="bold" fill="#2a2a2a">15</text>
<line x1="234.8" y1="349.6" x2="236.8" y2="349.6" stroke="#333" stroke-width="0.7"/>
<text x="234.3" y="351.8" font-size="6.3" text-anchor="end" font-weight="bold" fill="#2a2a2a">10</text>
<line x1="234.8" y1="371.8" x2="236.8" y2="371.8" stroke="#333" stroke-width="0.7"/>
<text x="234.3" y="374" font-size="6.3" text-anchor="end" font-weight="bold" fill="#2a2a2a">5</text>
<line x1="234.8" y1="390.1" x2="236.8" y2="390.1" stroke="#333" stroke-width="0.7"/>
<text x="234.3" y="392.3" font-size="6.3" text-anchor="end" font-weight="bold" fill="#2a2a2a">1.0</text>
<line x1="234.8" y1="415.75" x2="236.8" y2="415.75" stroke="#333" stroke-width="0.7"/>
<text x="234.3" y="417.95" font-size="6.3" text-anchor="end" font-weight="bold" fill="#2a2a2a">0.5</text>
<line x1="234.8" y1="441.4" x2="236.8" y2="441.4" stroke="#333" stroke-width="0.7"/>
<text x="234.3" y="443.6" font-size="6.3" text-anchor="end" font-weight="bold" fill="#2a2a2a">0.0</text>
<text x="205.4" y="382.4" font-size="8.0" text-anchor="middle" font-weight="bold" fill="#222" transform="rotate(-90 205.4 382.4)">Absolute cellularity</text>
<text x="216.2" y="382.4" font-size="8.0" text-anchor="middle" font-weight="bold" fill="#222" transform="rotate(-90 216.2 382.4)">X 10<tspan font-size="4.8" dy="-2.8">3</tspan><tspan dy="2.8"> BM cells</tspan></text>
<rect x="241" y="369.14" width="6.3" height="72.26" fill="#959595"/>
<rect x="241" y="389.3" width="6.3" height="1" fill="#fff"/>
<line x1="244.15" y1="365.14" x2="244.15" y2="373.13" stroke="#333" stroke-width="0.7"/>
<line x1="242.85" y1="365.14" x2="245.45" y2="365.14" stroke="#333" stroke-width="0.7"/>
<line x1="242.85" y1="373.13" x2="245.45" y2="373.13" stroke="#333" stroke-width="0.7"/>
<rect x="250.2" y="369.14" width="7.2" height="72.26" fill="#d4d4d4"/>
<rect x="250.2" y="389.3" width="7.2" height="1" fill="#fff"/>
<line x1="253.8" y1="362.92" x2="253.8" y2="374.91" stroke="#333" stroke-width="0.7"/>
<line x1="252.5" y1="362.92" x2="255.1" y2="362.92" stroke="#333" stroke-width="0.7"/>
<line x1="252.5" y1="374.91" x2="255.1" y2="374.91" stroke="#333" stroke-width="0.7"/>
<rect x="266.9" y="434.73" width="6.9" height="6.67" fill="#959595"/>
<line x1="270.35" y1="432.17" x2="270.35" y2="436.78" stroke="#333" stroke-width="0.7"/>
<line x1="269.05" y1="432.17" x2="271.65" y2="432.17" stroke="#333" stroke-width="0.7"/>
<line x1="269.05" y1="436.78" x2="271.65" y2="436.78" stroke="#333" stroke-width="0.7"/>
<rect x="276.7" y="437.81" width="6.7" height="3.59" fill="#d4d4d4"/>
<line x1="280.05" y1="436.27" x2="280.05" y2="439.35" stroke="#333" stroke-width="0.7"/>
<line x1="278.75" y1="436.27" x2="281.35" y2="436.27" stroke="#333" stroke-width="0.7"/>
<line x1="278.75" y1="439.35" x2="281.35" y2="439.35" stroke="#333" stroke-width="0.7"/>
<rect x="292.9" y="440.2" width="6.3" height="1.2" fill="#666"/>
<rect x="302.7" y="440.2" width="6.6" height="1.2" fill="#666"/>
<rect x="320.9" y="403.95" width="7.1" height="37.45" fill="#959595"/>
<line x1="324.45" y1="397.79" x2="324.45" y2="410.11" stroke="#333" stroke-width="0.7"/>
<line x1="323.15" y1="397.79" x2="325.75" y2="397.79" stroke="#333" stroke-width="0.7"/>
<line x1="323.15" y1="410.11" x2="325.75" y2="410.11" stroke="#333" stroke-width="0.7"/>
<rect x="331" y="402.92" width="6.6" height="38.48" fill="#d4d4d4"/>
<line x1="334.3" y1="393.18" x2="334.3" y2="412.16" stroke="#333" stroke-width="0.7"/>
<line x1="333" y1="393.18" x2="335.6" y2="393.18" stroke="#333" stroke-width="0.7"/>
<line x1="333" y1="412.16" x2="335.6" y2="412.16" stroke="#333" stroke-width="0.7"/>
<rect x="348.3" y="428.06" width="6.6" height="13.34" fill="#959595"/>
<line x1="351.6" y1="425.5" x2="351.6" y2="431.14" stroke="#333" stroke-width="0.7"/>
<line x1="350.3" y1="425.5" x2="352.9" y2="425.5" stroke="#333" stroke-width="0.7"/>
<line x1="350.3" y1="431.14" x2="352.9" y2="431.14" stroke="#333" stroke-width="0.7"/>
<rect x="358.4" y="431.14" width="6.6" height="10.26" fill="#d4d4d4"/>
<line x1="361.7" y1="428.57" x2="361.7" y2="433.19" stroke="#333" stroke-width="0.7"/>
<line x1="360.4" y1="428.57" x2="363" y2="428.57" stroke="#333" stroke-width="0.7"/>
<line x1="360.4" y1="433.19" x2="363" y2="433.19" stroke="#333" stroke-width="0.7"/>
<text x="248.5" y="354.1" font-size="4.0" text-anchor="middle" font-weight="normal" fill="#444">0.935476</text>
<polyline points="243.4,359.2 243.4,356.6 253.6,356.6 253.6,359.2" fill="none" stroke="#2a2a2a" stroke-width="0.9"/>
<text x="275.4" y="354.1" font-size="4.0" text-anchor="middle" font-weight="normal" fill="#444">0.205168</text>
<polyline points="270.3,359.2 270.3,356.6 280.5,356.6 280.5,359.2" fill="none" stroke="#2a2a2a" stroke-width="0.9"/>
<text x="301" y="354.1" font-size="4.0" text-anchor="middle" font-weight="normal" fill="#444">0.963575</text>
<polyline points="295.9,359.2 295.9,356.6 306.1,356.6 306.1,359.2" fill="none" stroke="#2a2a2a" stroke-width="0.9"/>
<text x="328.7" y="354.1" font-size="4.0" text-anchor="middle" font-weight="normal" fill="#444">0.931258</text>
<polyline points="323.6,359.2 323.6,356.6 333.8,356.6 333.8,359.2" fill="none" stroke="#2a2a2a" stroke-width="0.9"/>
<text x="356.7" y="354.1" font-size="4.0" text-anchor="middle" font-weight="normal" fill="#444">0.391809</text>
<polyline points="351.6,359.2 351.6,356.6 361.8,356.6 361.8,359.2" fill="none" stroke="#2a2a2a" stroke-width="0.9"/>
<text x="251.1" y="449.8" font-size="7.0" text-anchor="end" font-weight="bold" fill="#222" transform="rotate(-45 251.1 449.8)">Donor</text>
<text x="277.1" y="449.8" font-size="7.0" text-anchor="end" font-weight="bold" fill="#222" transform="rotate(-45 277.1 449.8)">AEC</text>
<text x="305.3" y="449.8" font-size="7.0" text-anchor="end" font-weight="bold" fill="#222" transform="rotate(-45 305.3 449.8)">SEC</text>
<text x="332.4" y="449.8" font-size="7.0" text-anchor="end" font-weight="bold" fill="#222" transform="rotate(-45 332.4 449.8)">Sca1 + MSC</text>
<text x="360.7" y="449.8" font-size="7.0" text-anchor="end" font-weight="bold" fill="#222" transform="rotate(-45 360.7 449.8)">CD150+</text>
<line x1="249.2" y1="441.4" x2="249.2" y2="443.4" stroke="#333" stroke-width="0.7"/>
<line x1="275.15" y1="441.4" x2="275.15" y2="443.4" stroke="#333" stroke-width="0.7"/>
<line x1="301.1" y1="441.4" x2="301.1" y2="443.4" stroke="#333" stroke-width="0.7"/>
<line x1="329.25" y1="441.4" x2="329.25" y2="443.4" stroke="#333" stroke-width="0.7"/>
<line x1="356.65" y1="441.4" x2="356.65" y2="443.4" stroke="#333" stroke-width="0.7"/>
</svg>
<div id="cap">
<div class="cl"><b>Figure 1: Radiation sensitivity of central and endosteal marrow and its effect on donor homing in</b></div>
<div class="cl"><b>femur and Spine.</b> Using TMI, mice were treated with TMI 12, 16,20 and 24 Gy and translated with CD45+</div>
<div class="cl">enriched Donor BM cells and central marrow and endosteal marrow, HSCs, MSCs, ECs and donor HSPCs</div>
<div class="cl">were analyzed 20+h post BMT (n=5 for treated mice, n=3 for untreated mice). <b>A-B</b>) Femur and L spine</div>
<div class="cl">central and endosteal marrow cells were harvested and counted. Relative to untreated mice respective EM</div>
<div class="cl">and CM cells with different treatment groups were plotted. <b>C)</b> Donor homing in CM and EM from Femur of</div>
<div class="cl">TMI treated mice show loss of spatial preference of Donor cells at higher radiation dose. <b>D-E)</b> Sca1+ MSC</div>
<div class="cl">( Lineage-CD45-Ter119- CD31- Sca1+) were higher in EM than CM, which was reduced at higher</div>
<div class="cl">radiation dose in femur but remain unchanged in Spine. <b>F)</b> The Arteriolar endothelial cells (AECs, Lineage<sup>-</sup></div>
<div class="cl">CD45<sup>-</sup> Ter119- CD31<sup>+</sup> SCa1<sup>Hi</sup> CD62P<sup>lo</sup>) and Sinusoidal endothelial cells (SEC, Lineage<sup>-</sup> CD45<sup>-</sup> Ter119-</div>
<div class="cl">CD31<sup>+</sup> SCa1<sup>lo</sup> CD62P<sup>Hi</sup>) were higher in femur EM than CM post BMT, however at higher doses the AECS</div>
<div class="cl">were further reduced in EM of femur. <b>G-H)</b>&nbsp; The Sca1+ MSC, AECs and SECs were reduced at higher</div>
<div class="cl">doses in femur unlike L-spine which remain unaffected, suggesting radiation induced BM niche damage at</div>
<div class="cl">higher doses. This damage could result in reduced CD150+ homing at higher radiation doses in femur.</div>
<div class="cl last">The p value was determined using ANOVA&nbsp; and considered significant when p&lt;0.05.</div>
</div>
</body></html>
